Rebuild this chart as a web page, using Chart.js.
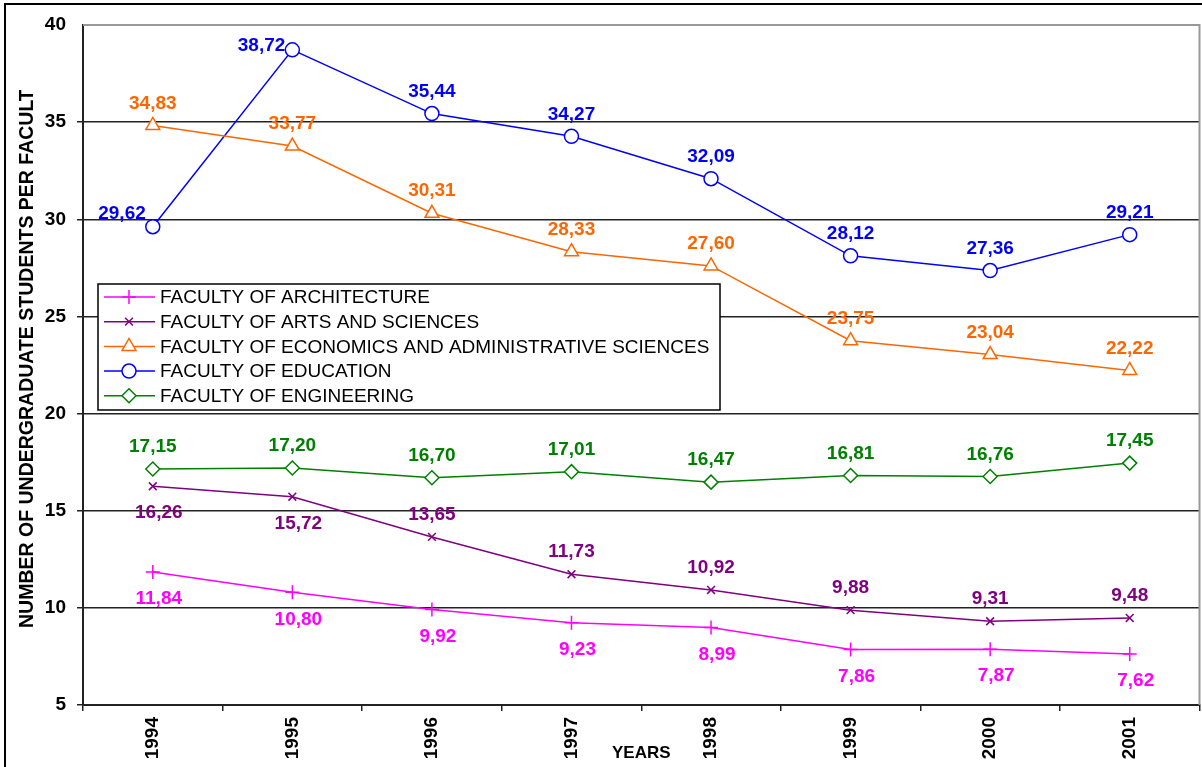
<!DOCTYPE html>
<html>
<head>
<meta charset="utf-8">
<script src="https://cdn.jsdelivr.net/npm/chart.js"></script>
<style>
  body { margin: 0; background: #fff; overflow: hidden; }
  #wrap { width: 1202px; height: 767px; overflow: hidden; }
</style>
</head>
<body>
<!-- canvas a bit wider than the view: Chart.js keeps ~10px free on the right -->
<div id="wrap"><canvas id="chart" width="1209" height="767"></canvas></div>
<script>
// data
const years = ["1994", "1995", "1996", "1997", "1998", "1999", "2000", "2001"];
const architecture = [11.84, 10.80, 9.92, 9.23, 8.99, 7.86, 7.87, 7.62];
const artsSciences = [16.26, 15.72, 13.65, 11.73, 10.92, 9.88, 9.31, 9.48];
const economics = [34.83, 33.77, 30.31, 28.33, 27.60, 23.75, 23.04, 22.22];
const education = [29.62, 38.72, 35.44, 34.27, 32.09, 28.12, 27.36, 29.21];
const engineering = [17.15, 17.20, 16.70, 17.01, 16.47, 16.81, 16.76, 17.45];
const yTicks = [5, 10, 15, 20, 25, 30, 35, 40];
const yTitle = "NUMBER OF UNDERGRADUATE STUDENTS PER FACULTY";

// where each value label sits: a = above, b = below, l / ul = left of the point
const labelSide = {
  architecture: ["b", "b", "b", "b", "b", "b", "b", "b"],
  arts: ["b", "b", "a", "a", "a", "a", "a", "a"],
  economics: ["a", "a", "a", "a", "a", "a", "a", "a"],
  education: ["ul", "l", "a", "a", "a", "a", "a", "a"],
  engineering: ["a", "a", "a", "a", "a", "a", "a", "a"]
};

const FONT = "Arial, 'Liberation Sans', sans-serif";

function series(label, data, color, style, radius, key) {
  return {
    label: label,
    data: data,
    borderColor: color,
    backgroundColor: color,
    borderWidth: 1.5,
    pointStyle: style,
    pointRadius: radius,
    pointHoverRadius: radius,
    pointBorderColor: color,
    pointBackgroundColor: "#fff",
    pointBorderWidth: 1.5,
    tension: 0,
    labelKey: key
  };
}

const datasets = [
  series("FACULTY OF ARCHITECTURE", architecture, "#FF00FF", "cross", 7, "architecture"),
  series("FACULTY OF ARTS AND SCIENCES", artsSciences, "#800080", "crossRot", 5.5, "arts"),
  series("FACULTY OF ECONOMICS AND ADMINISTRATIVE SCIENCES", economics, "#FF6600", "triangle", 8, "economics"),
  series("FACULTY OF EDUCATION", education, "#0000FF", "circle", 7, "education"),
  series("FACULTY OF ENGINEERING", engineering, "#008000", "rectRot", 7, "engineering")
];

// grey plot border, outer frame and the (clipped) y axis title
const framePlugin = {
  id: "frame",
  beforeDraw(chart) {
    const ctx = chart.ctx;
    ctx.save();
    ctx.fillStyle = "#fff";
    ctx.fillRect(0, 0, chart.width, chart.height);
    ctx.strokeStyle = "#000";
    ctx.lineWidth = 2;
    ctx.beginPath();
    ctx.moveTo(5, chart.height + 5);
    ctx.lineTo(5, 4);
    ctx.lineTo(chart.width + 5, 4);
    ctx.stroke();
    // y title: text box too short in the original, so the end is cut off
    ctx.beginPath();
    ctx.rect(10, 90, 40, 560);
    ctx.clip();
    ctx.translate(28, 628);
    ctx.rotate(-Math.PI / 2);
    ctx.font = "bold 19.5px " + FONT;
    ctx.fillStyle = "#000";
    ctx.textAlign = "left";
    ctx.textBaseline = "middle";
    ctx.fillText(yTitle, 0, 0);
    ctx.restore();
  },
  beforeDatasetsDraw(chart) {
    const a = chart.chartArea;
    const ctx = chart.ctx;
    ctx.save();
    ctx.strokeStyle = "#999";
    ctx.lineWidth = 2;
    ctx.beginPath();
    ctx.moveTo(a.left, a.top);
    ctx.lineTo(a.right, a.top);
    ctx.lineTo(a.right, a.bottom);
    ctx.stroke();
    ctx.restore();
  }
};

// value labels with a decimal comma
const valueLabels = {
  id: "valueLabels",
  afterDatasetsDraw(chart) {
    const ctx = chart.ctx;
    ctx.save();
    ctx.font = "bold 19px " + FONT;
    ctx.textBaseline = "middle";
    chart.data.datasets.forEach((ds, i) => {
      const meta = chart.getDatasetMeta(i);
      const sides = labelSide[ds.labelKey];
      ctx.fillStyle = ds.borderColor;
      meta.data.forEach((pt, j) => {
        const txt = ds.data[j].toFixed(2).replace(".", ",");
        const side = sides[j];
        if (side === "l") {
          ctx.textAlign = "right";
          ctx.fillText(txt, pt.x - 7, pt.y - 4);
        } else if (side === "ul") {
          ctx.textAlign = "right";
          ctx.fillText(txt, pt.x - 7, pt.y - 13);
        } else if (side === "b") {
          ctx.textAlign = "center";
          ctx.fillText(txt, pt.x + 6, pt.y + 27);
        } else {
          ctx.textAlign = "center";
          ctx.fillText(txt, pt.x, pt.y - 22);
        }
      });
    });
    ctx.restore();
  }
};

// boxed legend inside the plot
const boxLegend = {
  id: "boxLegend",
  afterDraw(chart) {
    const ctx = chart.ctx;
    const x0 = 98, y0 = 284, w = 622, h = 126, row = 24.7;
    ctx.save();
    ctx.fillStyle = "#fff";
    ctx.fillRect(x0, y0, w, h);
    ctx.strokeStyle = "#000";
    ctx.lineWidth = 1.5;
    ctx.strokeRect(x0, y0, w, h);
    ctx.font = "19px " + FONT;
    ctx.textBaseline = "middle";
    ctx.textAlign = "left";
    chart.data.datasets.forEach((ds, i) => {
      const y = y0 + 13 + i * row;
      ctx.strokeStyle = ds.borderColor;
      ctx.lineWidth = 1.5;
      ctx.beginPath();
      ctx.moveTo(x0 + 6, y);
      ctx.lineTo(x0 + 57, y);
      ctx.stroke();
      ctx.fillStyle = "#fff";
      Chart.helpers.drawPoint(ctx, {
        pointStyle: ds.pointStyle,
        radius: ds.pointRadius,
        rotation: 0,
        borderWidth: 1.5
      }, x0 + 31, y);
      ctx.fillStyle = "#000";
      ctx.fillText(ds.label, x0 + 62, y + 1);
    });
    ctx.restore();
  }
};

new Chart(document.getElementById("chart"), {
  type: "line",
  data: { labels: years, datasets: datasets },
  options: {
    responsive: false,
    animation: false,
    devicePixelRatio: 1,
    layout: { padding: { left: 0, top: 25, right: 3, bottom: 0 } },
    plugins: {
      legend: { display: false },
      tooltip: { enabled: false }
    },
    scales: {
      x: {
        offset: true,
        grid: { offset: true, drawOnChartArea: false, drawTicks: true, tickLength: 6, color: "#222", lineWidth: 1.5 },
        border: { color: "#222", width: 2 },
        ticks: {
          minRotation: 90, maxRotation: 90, padding: 6, color: "#000",
          font: { family: FONT, size: 19, weight: "bold" }
        },
        title: {
          display: true, text: "YEARS", color: "#000",
          font: { family: FONT, size: 17, weight: "bold" },
          padding: { top: 0, bottom: 3 }
        },
        afterFit(scale) {
          scale.height = 62;
          scale.paddingLeft = 0;
          scale.paddingRight = 0;
        }
      },
      y: {
        min: 5, max: 40,
        afterBuildTicks(scale) { scale.ticks = yTicks.map(v => ({ value: v })); },
        grid: {
          color: ctx => (ctx.tick && ctx.tick.value === 40 ? "rgba(0,0,0,0)" : "#222"),
          lineWidth: 1.5, tickLength: 6
        },
        border: { color: "#222", width: 2 },
        ticks: {
          padding: 11, color: "#000",
          font: { family: FONT, size: 19, weight: "bold" }
        },
        afterFit(scale) {
          scale.width = 83;
          scale.paddingTop = 0;
          scale.paddingBottom = 0;
        }
      }
    }
  },
  plugins: [framePlugin, valueLabels, boxLegend]
});
</script>
</body>
</html>
